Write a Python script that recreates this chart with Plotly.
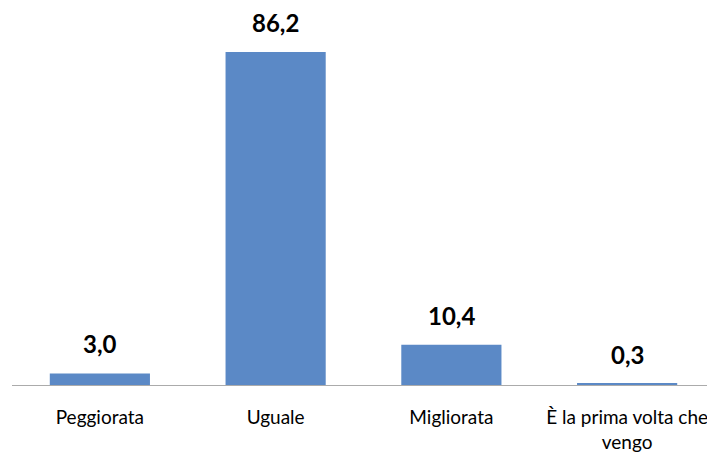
import plotly.graph_objects as go

categories = ["Peggiorata", "Uguale", "Migliorata", "È la prima volta che<br>vengo"]
values = [3.0, 86.2, 10.4, 0.3]
value_labels = ["3,0", "86,2", "10,4", "0,3"]

fig = go.Figure(go.Bar(
    x=categories, y=values,
    marker=dict(color="#5B89C6", line=dict(width=0)),
    width=0.57,
    hoverinfo="skip",
))

for c, v, t in zip(categories, values, value_labels):
    fig.add_annotation(x=c, y=v, text="<b>" + t + "</b>", showarrow=False, yanchor="bottom",
                       yshift=13, font=dict(family="Lato", size=24, color="#000000"))

# page body has an 8px default margin, so the figure is sized to fit inside the window
fig.update_layout(
    width=707, height=449,
    margin=dict(l=4, r=0, t=2, b=72),
    paper_bgcolor="white", plot_bgcolor="white",
    showlegend=False,
    bargap=0.43,
    xaxis=dict(showline=True, linecolor="#ABABAB", linewidth=1, ticks="",
               tickfont=dict(family="Lato", size=19, color="#000000"),
               ticklabelstandoff=15, showgrid=False, zeroline=False, automargin=False),
    yaxis=dict(range=[0, 97.07], visible=False, showgrid=False, zeroline=False),
)

fig.write_html("out.html")
